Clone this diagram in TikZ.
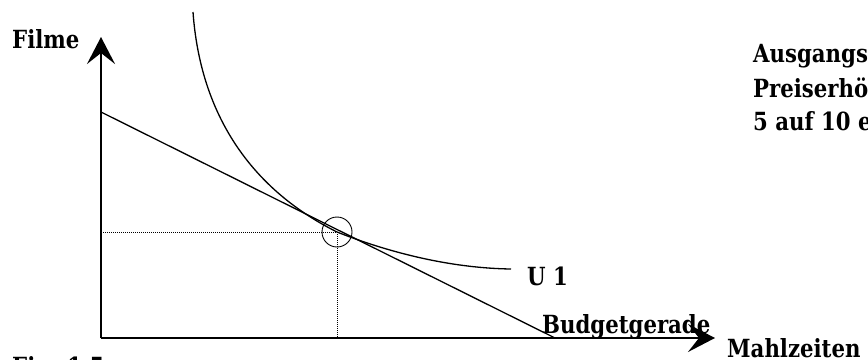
\documentclass[tikz,border=0pt]{standalone}
\usepackage{fontspec}
\setmainfont{DejaVu Serif}[FakeStretch=0.85]
\usetikzlibrary{arrows.meta,positioning}
\tikzset{
  axisline/.style={line width=2pt, -{Stealth[length=27pt,width=28pt,inset=11pt]}},
  budget/.style={line width=1.3pt},
  indiff/.style={line width=1.3pt},
  guide/.style={line width=1pt, dash pattern=on 1pt off 1pt},
  lbl/.style={font=\bfseries\fontsize{25}{29}\selectfont, inner sep=0pt, anchor=base west},
}

\begin{document}
\begin{tikzpicture}[x=1pt, y=-1pt]
  \useasboundingbox (0,0) rectangle (868,359);
  \clip (0,0) rectangle (868,359);

  % axes
  \coordinate (o)    at (101,338);
  \coordinate (ytip) at (101,37);
  \coordinate (xtip) at (715,338);
  \draw[axisline] (o) -- (ytip);
  \draw[axisline] (o) -- (xtip);

  % budget line, U 1 and optimum
  \coordinate (bA) at (101,112);
  \coordinate (bB) at (555,338);
  \coordinate (opt) at (337,232);
  \coordinate (utop) at (193,12);
  \coordinate (uend) at (511,269);
  \draw[budget] (bA) -- (bB);
  \draw[indiff] (utop) .. controls (200,110) and (247,187) .. (opt)
                       .. controls (375,247) and (440,268) .. (uend);
  \draw[line width=0.9pt] (opt) circle[radius=15];
  \draw[guide] (o |- opt) -- (opt);
  \draw[guide] (opt) -- (opt |- o);

  % labels
  \node[lbl] (filme)  at (12,48)   {Filme};
  \node[lbl] (mahl)   at (727,357) {Mahlzeiten};
  \node[lbl] (budg)   at (542,333) {Budgetgerade};
  \node[lbl] (uone)   at (527,285) {U 1};
  \node[lbl] (fig)    at (12,375)  {Fig. 1.5};

  % note (runs off the page)
  \node[lbl] (note1) at (753,62)  {Ausgangssituation};
  \node[lbl] (note2) at (753,97)  {Preiserhöhung};
  \node[lbl] (note3) at (753,130) {5 auf 10 euro};
\end{tikzpicture}
\end{document}
